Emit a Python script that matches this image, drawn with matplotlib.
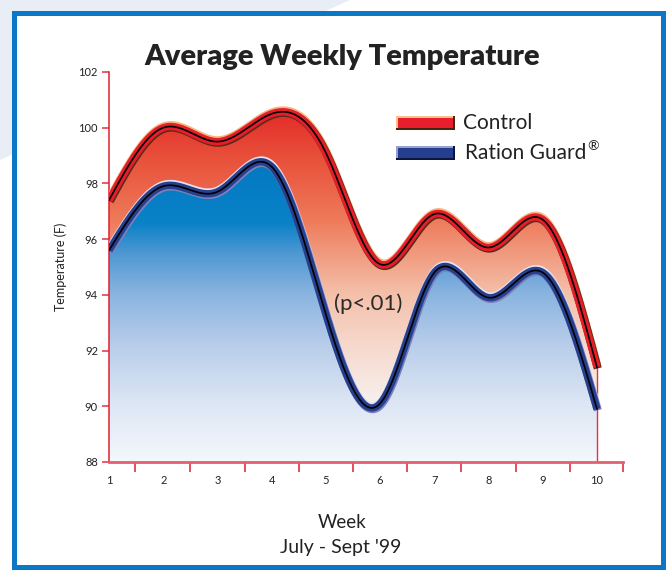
import numpy as np
import matplotlib
matplotlib.use('Agg')
import matplotlib.pyplot as plt
from matplotlib.colors import LinearSegmentedColormap
from matplotlib.patches import Polygon, Rectangle
import matplotlib.patheffects as pe

weeks = [1, 2, 3, 4, 5, 6, 7, 8, 9, 10]
control = [97.4, 100.0, 99.5, 100.5, 99.1, 95.1, 96.9, 95.7, 96.7, 91.4]
ration_guard = [95.6, 97.9, 97.7, 98.6, 93.3, 90.1, 94.8, 93.9, 94.8, 89.9]
y_ticks = [88, 90, 92, 94, 96, 98, 100, 102]

W, H = 668, 570
FONT = 'Lato'


def natural_spline(x, y, xs):
    x = np.asarray(x, float)
    y = np.asarray(y, float)
    n = len(x)
    h = np.diff(x)
    A = np.zeros((n, n))
    b = np.zeros(n)
    A[0, 0] = A[-1, -1] = 1
    for i in range(1, n - 1):
        A[i, i - 1] = h[i - 1]
        A[i, i] = 2 * (h[i - 1] + h[i])
        A[i, i + 1] = h[i]
        b[i] = 6 * ((y[i + 1] - y[i]) / h[i] - (y[i] - y[i - 1]) / h[i - 1])
    M = np.linalg.solve(A, b)
    idx = np.clip(np.searchsorted(x, xs) - 1, 0, n - 2)
    x0, x1 = x[idx], x[idx + 1]
    hh = x1 - x0
    a = (x1 - xs) / hh
    c = (xs - x0) / hh
    return (a * y[idx] + c * y[idx + 1]
            + ((a ** 3 - a) * M[idx] + (c ** 3 - c) * M[idx + 1]) * hh ** 2 / 6)


def px(x, y):
    return x / W, 1 - y / H


fig = plt.figure(figsize=(W / 100, H / 100), dpi=100)
fig.patch.set_facecolor('white')

# light decorative streak outside the frame (top-left)
fig.add_artist(Polygon([px(0, 0), px(350, 0), px(0, 160)], closed=True,
                       transform=fig.transFigure, facecolor='#e9eef6',
                       edgecolor='none', zorder=0))
fig.add_artist(Rectangle(px(14, 567), (663 - 14) / W, (567 - 13) / H,
                         transform=fig.transFigure, facecolor='white',
                         edgecolor='#0a78c4', linewidth=3.6, zorder=1))

ax = fig.add_axes([109 / W, 1 - 462 / H, (623 - 109) / W, (462 - 72) / H])
ax.set_zorder(2)
ax.patch.set_visible(False)
ax.set_xlim(1, 10.48)
ax.set_ylim(88, 102)

xs = np.linspace(1, 10, 600)
c_s = natural_spline(weeks, control, xs)
r_s = natural_spline(weeks, ration_guard, xs)

red_cmap = LinearSegmentedColormap.from_list('red', [
    (0.0, '#ffffff'), (0.15, '#f8f0ee'), (0.3, '#f6d8cc'), (0.43, '#f4c0aa'),
    (0.62, '#ee7a5a'), (0.78, '#e8503a'), (0.9, '#e42a28'), (1.0, '#e21c24')])
blue_cmap = LinearSegmentedColormap.from_list('blue', [
    (0.0, '#f4f8fc'), (0.15, '#dce6f4'), (0.3, '#b8cdea'), (0.43, '#8ab4e0'),
    (0.54, '#4a96d2'), (0.61, '#0a82c8'), (0.8, '#0076be'), (1.0, '#006db5')])
grad = np.linspace(0, 1, 256).reshape(-1, 1)

for vals, cmap in ((c_s, red_cmap), (r_s, blue_cmap)):
    verts = np.column_stack([np.r_[xs, 10, 1], np.r_[vals, 88, 88]])
    poly = Polygon(verts, closed=True, facecolor='none', edgecolor='none')
    ax.add_patch(poly)
    im = ax.imshow(grad, extent=[1, 10, 88, 102], origin='lower', aspect='auto',
                   cmap=cmap, zorder=1)
    im.set_clip_path(poly)

ax.plot([10, 10], [88, control[-1]], color='#e8303a', lw=1.0, zorder=2)

ax.plot(xs, c_s, color='#e61e2a', lw=5.3, solid_capstyle='butt', zorder=3,
        path_effects=[pe.Stroke(linewidth=5.8, foreground='#f7b57c', offset=(0.3, 1.0)),
                      pe.Stroke(linewidth=5.8, foreground='#5a2c18', offset=(0.6, -0.8)),
                      pe.Normal()])
ax.plot(xs, c_s, color='black', lw=1.2, zorder=4)

ax.plot(xs, r_s, color='#27408e', lw=5.3, solid_capstyle='butt', zorder=3,
        path_effects=[pe.Stroke(linewidth=5.8, foreground='#e6e2f0', offset=(0.3, 1.0)),
                      pe.Stroke(linewidth=5.8, foreground='#7c80bc', offset=(0.6, -0.9)),
                      pe.Normal()])
ax.plot(xs, r_s, color='black', lw=1.2, zorder=4)

ax.text(5.78, 93.7, '(p<.01)', fontsize=16, family=FONT, color='#2a2a2a',
        ha='center', va='center', zorder=5)

# axes styling
for s in ('top', 'right'):
    ax.spines[s].set_visible(False)
ax.spines['left'].set_color('#e02030')
ax.spines['left'].set_linewidth(1.1)
ax.spines['bottom'].set_color('#e06070')
ax.spines['bottom'].set_linewidth(2.0)
ax.set_yticks(y_ticks)
ax.set_yticklabels([str(t) for t in y_ticks], fontsize=8, family=FONT, color='#222222')
ax.tick_params(axis='y', direction='out', length=5, width=1.1, color='#e03040', pad=3)
ax.set_xticks(weeks)
ax.set_xticklabels([str(w) for w in weeks], fontsize=8, family=FONT, color='#222222')
ax.tick_params(axis='x', which='major', length=0, pad=9)
ax.set_xticks([1, 1.48] + [k + 0.5 for k in range(2, 10)] + [10.48], minor=True)
ax.tick_params(axis='x', which='minor', direction='out', length=7, width=1.2, color='#e03040')

ax.set_ylabel('Temperature (F)', fontsize=9, family=FONT, color='#222222', labelpad=8)

fig.text(342 / W, 1 - 57 / H, 'Average Weekly Temperature', fontsize=21,
         fontweight='heavy', family=FONT, color='#222222', ha='center', va='center')
fig.text(342 / W, 1 - 523 / H, 'Week', fontsize=13.5, family=FONT,
         color='#222222', ha='center', va='center')
fig.text(341 / W, 1 - 547 / H, "July - Sept '99", fontsize=14, family=FONT,
         color='#222222', ha='center', va='center')

# legend swatches
def swatch(y, top, main, bottom):
    x0, w, h = 396, 59, 14
    fig.add_artist(Rectangle(px(x0, y + h / 2), w / W, h / H, transform=fig.transFigure,
                             facecolor=bottom, edgecolor='none', zorder=5))
    fig.add_artist(Rectangle(px(x0, y + h / 2 - 2), (w - 2) / W, (h - 2) / H,
                             transform=fig.transFigure, facecolor=top,
                             edgecolor='none', zorder=5))
    fig.add_artist(Rectangle(px(x0 + 2, y + h / 2 - 2), (w - 4) / W, (h - 4) / H,
                             transform=fig.transFigure, facecolor=main,
                             edgecolor='none', zorder=5))

swatch(123, '#f8c08c', '#e81e2c', '#4a2412')
swatch(153, '#9a9ed0', '#233f8e', '#0c1440')
fig.text(463 / W, 1 - 123 / H, 'Control', fontsize=15, family=FONT,
         color='#222222', ha='left', va='center')
t = fig.text(465 / W, 1 - 153 / H, 'Ration Guard', fontsize=15, family=FONT,
             color='#222222', ha='left', va='center')
fig.canvas.draw()
bb = t.get_window_extent(renderer=fig.canvas.get_renderer())
fig.text(bb.x1 / W + 1 / W, 1 - 146 / H, '\u00ae', fontsize=10, family=FONT,
         color='#222222', ha='left', va='center')

fig.savefig('out.png', dpi=100)
